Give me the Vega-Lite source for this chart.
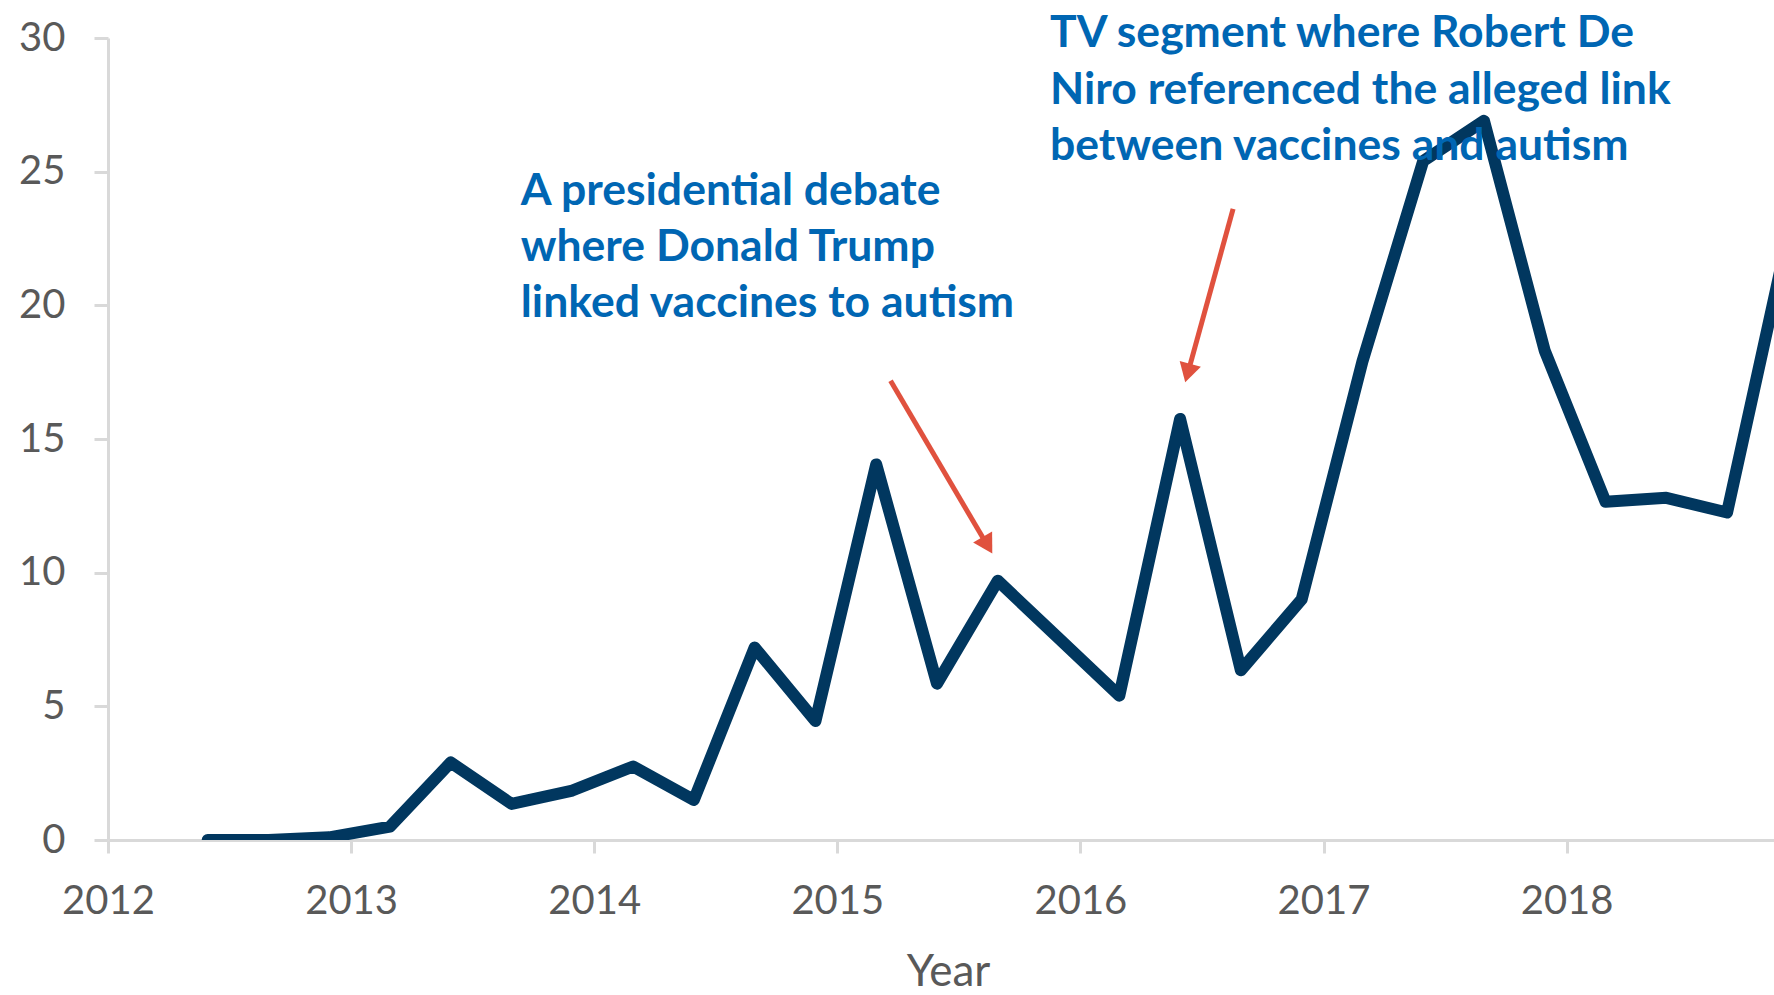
{
  "$schema": "https://vega.github.io/schema/vega-lite/v6.json",
  "autosize": "none",
  "width": 1666,
  "height": 802,
  "padding": {"left": 108, "top": 38, "right": 0, "bottom": 155},
  "background": "white",
  "config": {"view": {"stroke": null}, "axis": {"grid": false}},
  "datasets": {
    "series": [
      {"year": 2012.41, "value": 0},
      {"year": 2012.66, "value": 0},
      {"year": 2012.91, "value": 0.1},
      {"year": 2013.16, "value": 0.5},
      {"year": 2013.41, "value": 2.9},
      {"year": 2013.66, "value": 1.35},
      {"year": 2013.91, "value": 1.85},
      {"year": 2014.16, "value": 2.75},
      {"year": 2014.41, "value": 1.5},
      {"year": 2014.66, "value": 7.2},
      {"year": 2014.91, "value": 4.45},
      {"year": 2015.16, "value": 14.05},
      {"year": 2015.41, "value": 5.85},
      {"year": 2015.66, "value": 9.7},
      {"year": 2015.91, "value": 7.55},
      {"year": 2016.16, "value": 5.4},
      {"year": 2016.41, "value": 15.75},
      {"year": 2016.66, "value": 6.35},
      {"year": 2016.91, "value": 9.0},
      {"year": 2017.16, "value": 17.9},
      {"year": 2017.41, "value": 25.4},
      {"year": 2017.66, "value": 26.9},
      {"year": 2017.91, "value": 18.3},
      {"year": 2018.16, "value": 12.65},
      {"year": 2018.41, "value": 12.8},
      {"year": 2018.66, "value": 12.25},
      {"year": 2018.91, "value": 22.6}
    ],
    "arrows": [
      {"id": "debate", "year": 2015.219, "value": 17.18, "year2": 2015.605, "value2": 11.21, "headYear": 2015.611, "headValue": 11.13},
      {"id": "deniro", "year": 2016.628, "value": 23.61, "year2": 2016.448, "value2": 17.67, "headYear": 2016.445, "headValue": 17.58}
    ],
    "labels": [
      {"year": 2013.698, "value": 23.77, "text": "A presidential debate"},
      {"year": 2013.698, "value": 21.66, "text": "where Donald Trump"},
      {"year": 2013.698, "value": 19.55, "text": "linked vaccines to autism"},
      {"year": 2015.875, "value": 29.65, "text": "TV segment where Robert De"},
      {"year": 2015.875, "value": 27.53, "text": "Niro referenced the alleged link"},
      {"year": 2015.875, "value": 25.42, "text": "between vaccines and autism"}
    ]
  },
  "layer": [
    {
      "data": {"name": "series"},
      "mark": {"type": "line", "color": "#01375f", "strokeWidth": 12, "strokeJoin": "round", "strokeCap": "round", "clip": true},
      "encoding": {
        "x": {
          "field": "year", "type": "quantitative",
          "scale": {"domain": [2012, 2018.853], "nice": false, "zero": false},
          "axis": {
            "title": "Year",
            "values": [2012, 2013, 2014, 2015, 2016, 2017, 2018],
            "format": "d",
            "domainColor": "#d9d9d9", "domainWidth": 3,
            "tickColor": "#d9d9d9", "tickWidth": 3, "tickSize": 13,
            "labelFont": "Lato", "labelFontSize": 40, "labelColor": "#595959",
            "labelPadding": 28, "labelFlush": false, "labelOverlap": false,
            "titleFont": "Lato", "titleFontSize": 44, "titleFontWeight": "normal", "titleColor": "#595959",
            "titleBaseline": "alphabetic", "titleY": 145, "titleX": 840, "titleAnchor": "middle"
          }
        },
        "y": {
          "field": "value", "type": "quantitative",
          "scale": {"domain": [0, 30], "nice": false},
          "axis": {
            "title": null,
            "values": [0, 5, 10, 15, 20, 25, 30],
            "domainColor": "#d9d9d9", "domainWidth": 3,
            "tickColor": "#d9d9d9", "tickWidth": 3, "tickSize": 14,
            "labelFont": "Lato", "labelFontSize": 40, "labelColor": "#595959",
            "labelPadding": 29, "labelFlush": false, "labelOverlap": false
          }
        }
      }
    },
    {
      "data": {"name": "arrows"},
      "mark": {"type": "rule", "color": "#e0513e", "strokeWidth": 5},
      "encoding": {
        "x": {"field": "year", "type": "quantitative"},
        "y": {"field": "value", "type": "quantitative"},
        "x2": {"field": "year2"},
        "y2": {"field": "value2"}
      }
    },
    {
      "data": {"name": "arrows"},
      "transform": [{"filter": "datum.id === 'debate'"}],
      "mark": {"type": "point", "shape": "triangle", "filled": true, "color": "#e0513e", "opacity": 1, "size": 484, "angle": 149.5},
      "encoding": {
        "x": {"field": "headYear", "type": "quantitative"},
        "y": {"field": "headValue", "type": "quantitative"}
      }
    },
    {
      "data": {"name": "arrows"},
      "transform": [{"filter": "datum.id === 'deniro'"}],
      "mark": {"type": "point", "shape": "triangle", "filled": true, "color": "#e0513e", "opacity": 1, "size": 484, "angle": 195.4},
      "encoding": {
        "x": {"field": "headYear", "type": "quantitative"},
        "y": {"field": "headValue", "type": "quantitative"}
      }
    },
    {
      "data": {"name": "labels"},
      "mark": {"type": "text", "align": "left", "baseline": "alphabetic", "font": "Lato", "fontWeight": "bold", "fontSize": 44.5, "color": "#0066b3"},
      "encoding": {
        "x": {"field": "year", "type": "quantitative"},
        "y": {"field": "value", "type": "quantitative"},
        "text": {"field": "text"}
      }
    }
  ]
}
